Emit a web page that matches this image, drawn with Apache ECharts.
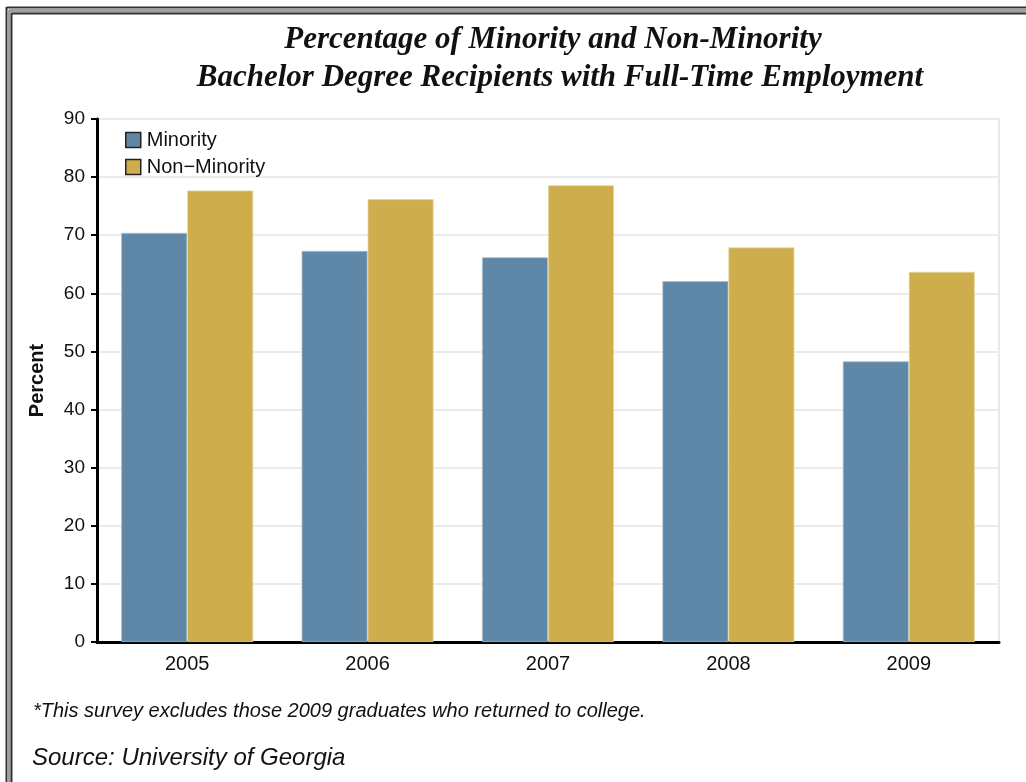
<!DOCTYPE html>
<html>
<head>
<meta charset="utf-8">
<style>
  html, body { margin: 0; padding: 0; background: #ffffff; }
  #chart { width: 1026px; height: 782px; }
</style>
<script src="https://cdn.jsdelivr.net/npm/echarts@6/dist/echarts.min.js"></script>
</head>
<body>
<div id="chart"></div>
<script>
// Graduation years on the category axis
const years = ['2005', '2006', '2007', '2008', '2009'];
// Share of bachelor degree recipients with full-time employment (%)
const minority = [70.4, 67.3, 66.2, 62.1, 48.3];
const nonMinority = [77.7, 76.2, 78.6, 67.9, 63.7];
// Value axis settings
const yMin = 0;
const yMax = 90;
const yStep = 10;

const titleLines = [
  'Percentage of Minority and Non-Minority',
  'Bachelor Degree Recipients with Full-Time Employment'
];
const footnote = '*This survey excludes those 2009 graduates who returned to college.';
const source = 'Source: University of Georgia';

const chart = echarts.init(document.getElementById('chart'), null, { renderer: 'canvas' });

const sansFont = '"Liberation Sans", Arial, sans-serif';
const serifFont = '"Liberation Serif", "Times New Roman", serif';

chart.setOption({
  backgroundColor: '#ffffff',
  animation: false,
  grid: {
    left: 97, right: 27, top: 119, bottom: 140,
    show: true, borderColor: '#e8e8e8', borderWidth: 2, backgroundColor: 'transparent'
  },
  legend: {
    orient: 'vertical',
    left: 120, top: 125,
    itemWidth: 15, itemHeight: 15, itemGap: 7,
    icon: 'rect',
    itemStyle: { borderColor: '#222222', borderWidth: 1.5 },
    textStyle: { fontFamily: sansFont, fontSize: 20, color: '#111111', padding: [0, 0, 0, 1] },
    data: ['Minority', 'Non\u2212Minority']
  },
  xAxis: {
    type: 'category',
    data: years,
    axisLine: { lineStyle: { color: '#000000', width: 3 } },
    axisTick: { alignWithLabel: true, length: 6, lineStyle: { color: '#000000', width: 2 } },
    axisLabel: { fontFamily: sansFont, fontSize: 20, color: '#111111', margin: 12 },
    splitLine: { show: false }
  },
  yAxis: {
    type: 'value',
    min: yMin, max: yMax, interval: yStep,
    name: 'Percent',
    nameLocation: 'middle',
    nameRotate: 90,
    nameGap: 50,
    nameTextStyle: { fontFamily: sansFont, fontSize: 20, fontWeight: 'bold', color: '#111111' },
    axisLine: { show: true, lineStyle: { color: '#000000', width: 3 } },
    axisTick: { show: true, length: 6, lineStyle: { color: '#000000', width: 2 } },
    axisLabel: { fontFamily: sansFont, fontSize: 19, color: '#111111', margin: 12 },
    splitLine: { show: true, lineStyle: { color: '#ebebeb', width: 2 } }
  },
  series: [
    {
      name: 'Minority',
      type: 'bar',
      data: minority,
      barWidth: 66,
      barGap: '0%',
      itemStyle: { color: '#5f87a7', borderColor: '#a9bfd0', borderWidth: 0.8 }
    },
    {
      name: 'Non\u2212Minority',
      type: 'bar',
      data: nonMinority,
      barWidth: 66,
      barGap: '0%',
      itemStyle: { color: '#ceae4c', borderColor: '#e6d59f', borderWidth: 0.8 }
    }
  ],
  graphic: [
    // double frame along the top and left edges
    { type: 'line', shape: { x1: 6.5, y1: 7.5, x2: 1026, y2: 7.5 }, style: { stroke: '#333333', lineWidth: 2 }, silent: true },
    { type: 'line', shape: { x1: 9, y1: 10.5, x2: 1026, y2: 10.5 }, style: { stroke: '#a0a0a0', lineWidth: 4 }, silent: true },
    { type: 'line', shape: { x1: 11.5, y1: 13.5, x2: 1026, y2: 13.5 }, style: { stroke: '#333333', lineWidth: 2 }, silent: true },
    { type: 'line', shape: { x1: 6.5, y1: 7, x2: 6.5, y2: 782 }, style: { stroke: '#333333', lineWidth: 2 }, silent: true },
    { type: 'line', shape: { x1: 9, y1: 10, x2: 9, y2: 782 }, style: { stroke: '#a0a0a0', lineWidth: 3 }, silent: true },
    { type: 'line', shape: { x1: 11.5, y1: 13, x2: 11.5, y2: 782 }, style: { stroke: '#333333', lineWidth: 2 }, silent: true },
    // title, two centred lines
    {
      type: 'text', x: 553, y: 40,
      style: {
        text: titleLines[0], textAlign: 'center', textVerticalAlign: 'middle',
        font: 'italic bold 31px ' + serifFont, fill: '#111111'
      }
    },
    {
      type: 'text', x: 560, y: 78,
      style: {
        text: titleLines[1], textAlign: 'center', textVerticalAlign: 'middle',
        font: 'italic bold 31px ' + serifFont, fill: '#111111'
      }
    },
    // footnote and source
    {
      type: 'text', x: 33, y: 711,
      style: { text: footnote, textVerticalAlign: 'middle', font: 'italic 20px ' + sansFont, fill: '#111111' }
    },
    {
      type: 'text', x: 32, y: 758,
      style: { text: source, textVerticalAlign: 'middle', font: 'italic 24px ' + sansFont, fill: '#111111' }
    }
  ]
});
</script>
</body>
</html>
